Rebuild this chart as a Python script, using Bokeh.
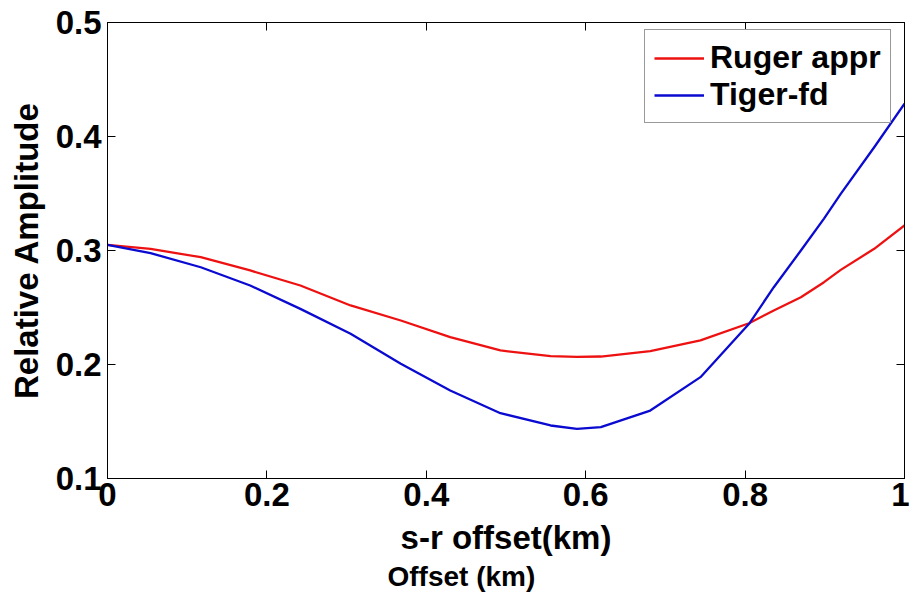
from bokeh.plotting import figure
from bokeh.models import (LinearAxis, Legend, LegendItem, Title, Range1d,
                          FixedTicker, CustomLabelingPolicy)
from bokeh.embed import file_html
from bokeh.resources import INLINE

# Source-receiver offset (km) and relative amplitudes
offset_km = [0.000, 0.054, 0.117, 0.179, 0.242, 0.305, 0.368, 0.430, 0.493,
             0.556, 0.589, 0.619, 0.681, 0.744, 0.805, 0.836, 0.870, 0.899,
             0.920, 0.962, 1.000]
ruger_appr = [0.3050, 0.3015, 0.2941, 0.2825, 0.2693, 0.2518, 0.2386, 0.2240,
              0.2123, 0.2073, 0.2067, 0.2070, 0.2117, 0.2211, 0.2362, 0.2474,
              0.2590, 0.2722, 0.2830, 0.3015, 0.3220]
tiger_fd = [0.3050, 0.2977, 0.2853, 0.2693, 0.2488, 0.2269, 0.2006, 0.1772,
            0.1573, 0.1465, 0.1436, 0.1450, 0.1596, 0.1889, 0.2357, 0.2678,
            0.3000, 0.3280, 0.3497, 0.3906, 0.4287]

x_ticks = [0, 0.2, 0.4, 0.6, 0.8, 1.0]
y_ticks = [0.1, 0.2, 0.3, 0.4, 0.5]

FONT = "Liberation Sans"

p = figure(width=909, height=603, x_range=Range1d(0, 1),
           y_range=Range1d(0.1, 0.5), output_backend="svg",
           toolbar_location=None, min_border_left=107, min_border_right=5,
           min_border_top=22, min_border_bottom=125)
p.grid.visible = False
p.outline_line_color = "black"
p.outline_line_width = 1
p.background_fill_color = "white"
p.border_fill_color = "white"

# labeling policy that keeps no tick labels (for the mirrored box edges)
no_labels = CustomLabelingPolicy(
    code="for (const i of indices) { indices.unset(i) }\nreturn indices")

def style_axis(ax, ticks, show_labels):
    ax.ticker = FixedTicker(ticks=ticks)
    ax.major_tick_in = 8
    ax.major_tick_out = 0
    ax.minor_tick_in = 0
    ax.minor_tick_out = 0
    ax.axis_line_color = "black"
    ax.major_tick_line_color = "black"
    ax.major_label_text_font = FONT
    ax.major_label_text_font_style = "bold"
    ax.major_label_text_color = "black"
    if show_labels:
        ax.major_label_text_font_size = "33px"
    else:
        ax.major_label_text_font_size = "1px"
        ax.major_label_policy = no_labels
        ax.major_label_standoff = 0

style_axis(p.xaxis[0], x_ticks, True)
style_axis(p.yaxis[0], y_ticks, True)
p.xaxis[0].major_label_standoff = 4
p.yaxis[0].major_label_standoff = 6
p.xaxis[0].major_label_overrides = {0: "0", 1: "1"}

p.xaxis.axis_label = "s-r offset(km)"
p.yaxis.axis_label = "Relative Amplitude"
for ax in (p.xaxis[0], p.yaxis[0]):
    ax.axis_label_text_font = FONT
    ax.axis_label_text_font_style = "bold"
    ax.axis_label_text_font_size = "33px"
    ax.axis_label_text_color = "black"
p.xaxis[0].axis_label_standoff = 10
p.yaxis[0].axis_label_standoff = 8

# mirrored tick marks on the top and right edges of the box
top_ax = LinearAxis()
right_ax = LinearAxis()
style_axis(top_ax, x_ticks, False)
style_axis(right_ax, y_ticks, False)
p.add_layout(top_ax, "above")
p.add_layout(right_ax, "right")

r1 = p.line(offset_km, ruger_appr, line_color="#ee1111", line_width=2.3,
            line_join="round")
r2 = p.line(offset_km, tiger_fd, line_color="#0a0ad0", line_width=2.3,
            line_join="round")

legend = Legend(items=[LegendItem(label="Ruger appr", renderers=[r1]),
                       LegendItem(label="Tiger-fd", renderers=[r2])],
                location=(537, 355))
legend.label_text_font = FONT
legend.label_text_font_style = "bold"
legend.label_text_font_size = "32px"
legend.label_text_color = "black"
legend.glyph_width = 50
legend.glyph_height = 30
legend.label_standoff = 6
legend.padding = 9
legend.spacing = 0
legend.margin = 0
legend.border_line_color = "#333333"
legend.border_line_width = 1.5
legend.background_fill_color = "white"
legend.background_fill_alpha = 1
p.add_layout(legend, "center")

# second caption under the x-axis title
p.add_layout(Title(text="Offset (km)", align="left", offset=280, standoff=0,
                   text_font=FONT, text_font_style="bold",
                   text_font_size="28px", text_color="black"), "below")

open("out.html", "w").write(file_html(p, INLINE))
